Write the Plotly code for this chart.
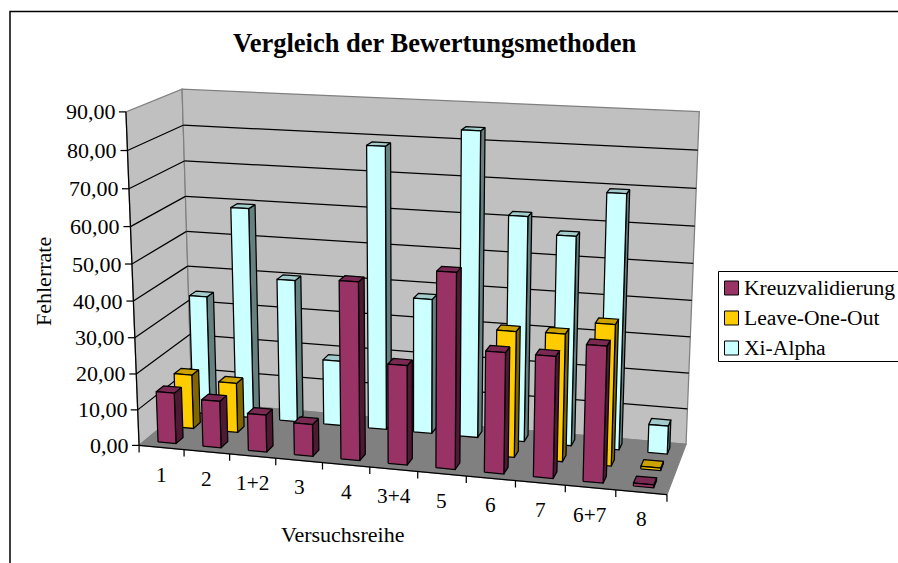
import numpy as np
import plotly.graph_objects as go

# ---------- data ----------
categories = ["1", "2", "1+2", "3", "4", "3+4", "5", "6", "7", "6+7", "8"]
kreuzvalidierung = [14.2, 13.0, 10.3, 8.8, 48.3, 27.0, 52.5, 32.5, 32.5, 36.2, 0.8]
leave_one_out = [15.3, 14.0, None, None, None, None, None, 34.4, 34.7, 38.2, 0.7]
xi_alpha = [34.0, 59.7, 40.4, 18.5, 78.7, 37.8, 84.0, 62.0, 57.5, 69.5, 7.8]
y_ticks = [0, 10, 20, 30, 40, 50, 60, 70, 80, 90]
y_tick_labels = ["0,00", "10,00", "20,00", "30,00", "40,00", "50,00", "60,00", "70,00", "80,00", "90,00"]
title_text = "Vergleich der Bewertungsmethoden"
x_title = "Versuchsreihe"
y_title = "Fehlerrate"

# ---------- projective camera of the 3-D box (u along categories, d into depth, v value) ----------
VMAX = 90.0
calib = [((0, 0, 0), (139, 445)), ((0, 0, 90), (126, 112)),
         ((0, 1, 0), (192, 402)), ((0, 1, 90), (182, 89)),
         ((1, 1, 0), (686, 444)), ((1, 1, 90), (699.3, 111.7)),
         ((1, 0, 0), (667, 495))]
A, b = [], []
for (u, d, v), (sx, sy) in calib:
    w = v / VMAX
    A.append([u, d, w, 1, 0, 0, 0, 0, -sx * u, -sx * d, -sx * w]); b.append(sx)
    A.append([0, 0, 0, 0, u, d, w, 1, -sy * u, -sy * d, -sy * w]); b.append(sy)
P = np.linalg.lstsq(np.array(A, float), np.array(b, float), rcond=None)[0]


def proj(u, d, v):
    w = v / VMAX
    den = P[8] * u + P[9] * d + P[10] * w + 1
    return ((P[0] * u + P[1] * d + P[2] * w + P[3]) / den,
            (P[4] * u + P[5] * d + P[6] * w + P[7]) / den)


def polys(pts_list):
    xs, ys = [], []
    for pts in pts_list:
        for p in list(pts) + [pts[0]]:
            x, y = proj(*p)
            xs.append(x); ys.append(y)
        xs.append(None); ys.append(None)
    return xs, ys


fig = go.Figure()
LW = 1.25


def poly(pts_list, fill, line="black", width=LW):
    xs, ys = polys(pts_list)
    fig.add_trace(go.Scatter(x=xs, y=ys, mode="lines", fill="toself", fillcolor=fill,
                             line=dict(color=line, width=width), hoverinfo="skip", showlegend=False))


def seg(pts_list, color="black", width=LW):
    xs, ys = [], []
    for a, c in pts_list:
        for p in (a, c):
            x, y = proj(*p)
            xs.append(x); ys.append(y)
        xs.append(None); ys.append(None)
    fig.add_trace(go.Scatter(x=xs, y=ys, mode="lines", line=dict(color=color, width=width),
                             hoverinfo="skip", showlegend=False))


# walls and floor
poly([[(0, 0, 0), (0, 1, 0), (0, 1, VMAX), (0, 0, VMAX)]], "#C0C0C0", "#808080")
poly([[(0, 1, 0), (1, 1, 0), (1, 1, VMAX), (0, 1, VMAX)]], "#C0C0C0", "#808080")
poly([[(0, 0, 0), (1, 0, 0), (1, 1, 0), (0, 1, 0)]], "#808080", "#808080")
seg([((0, 0, t), (0, 1, t)) for t in y_ticks[1:-1]] + [((0, 1, t), (1, 1, t)) for t in y_ticks[1:-1]])
seg([((0, 0, 0), (0, 0, VMAX)), ((0, 0, 0), (1, 0, 0))])

# bars, back series first
N = len(categories)
series = [(xi_alpha, 2, "#CCFFFF", "#668080", "#A3CCCC"),
          (leave_one_out, 1, "#FFCC00", "#806600", "#CCA300"),
          (kreuzvalidierung, 0, "#993366", "#4D1933", "#7A2952")]
for values, k, c_front, c_side, c_top in series:
    fronts, sides, tops = [], [], []
    for i, val in enumerate(values):
        if val is None:
            continue
        u0, u1 = (i + 0.3) / N, (i + 0.7) / N
        d0, d1 = (k + 0.3) / 3, (k + 0.7) / 3
        fronts.append([(u0, d0, 0), (u1, d0, 0), (u1, d0, val), (u0, d0, val)])
        sides.append([(u1, d0, 0), (u1, d1, 0), (u1, d1, val), (u1, d0, val)])
        tops.append([(u0, d0, val), (u1, d0, val), (u1, d1, val), (u0, d1, val)])
    poly(sides, c_side)
    poly(tops, c_top)
    poly(fronts, c_front)

FONT = "Liberation Serif"
ann = []
# value axis ticks and labels
tx, ty = [], []
for t, lab in zip(y_ticks, y_tick_labels):
    x, y = proj(0, 0, t)
    tx += [x - 7, x, None]; ty += [y, y, None]
    ann.append(dict(x=x - 8, y=y, text=lab, xanchor="right", yanchor="middle", showarrow=False,
                    font=dict(family=FONT, size=22, color="black")))
# category ticks and labels
for i in range(N + 1):
    x, y = proj(i / N, 0, 0)
    tx += [x, x, None]; ty += [y, y + 7, None]
for i, lab in enumerate(categories):
    x, y = proj((i + 0.5) / N, 0, 0)
    ann.append(dict(x=x, y=y + 27, text=lab, xanchor="center", yanchor="middle", showarrow=False,
                    font=dict(family=FONT, size=21.3, color="black")))
fig.add_trace(go.Scatter(x=tx, y=ty, mode="lines", line=dict(color="black", width=LW),
                         hoverinfo="skip", showlegend=False))

# titles
ann.append(dict(x=435, y=43, text="<b>%s</b>" % title_text, xanchor="center", yanchor="middle", showarrow=False,
                font=dict(family=FONT, size=26.5, color="black")))
ann.append(dict(x=342.5, y=534, text=x_title, xanchor="center", yanchor="middle", showarrow=False,
                font=dict(family=FONT, size=22, color="black")))
ann.append(dict(x=43, y=282, text=y_title, textangle=-90, xanchor="center", yanchor="middle", showarrow=False,
                font=dict(family=FONT, size=22, color="black")))

# legend
legend_names = ["Kreuzvalidierung", "Leave-One-Out", "Xi-Alpha"]
legend_colors = ["#993366", "#FFCC00", "#CCFFFF"]
shapes = [
    dict(type="rect", x0=10, y0=11.5, x1=920, y1=600, line=dict(color="black", width=1.5), fillcolor="rgba(0,0,0,0)", layer="below"),
    dict(type="rect", x0=718.5, y0=271.5, x1=920, y1=361.5, line=dict(color="black", width=1), fillcolor="white"),
]
for j, (nm, col) in enumerate(zip(legend_names, legend_colors)):
    yc = 288 + 30 * j
    shapes.append(dict(type="rect", x0=724.5, x1=738.5, y0=yc - 7, y1=yc + 7, line=dict(color="black", width=1), fillcolor=col))
    ann.append(dict(x=742, y=yc, text=nm, xanchor="left", yanchor="middle", showarrow=False,
                    font=dict(family=FONT, size=21.6, color="black")))

fig.update_layout(width=898, height=563, margin=dict(l=0, r=0, t=0, b=0), autosize=False,
                  paper_bgcolor="white", plot_bgcolor="white", showlegend=False,
                  xaxis=dict(range=[0, 898], visible=False, fixedrange=True),
                  yaxis=dict(range=[563, 0], visible=False, fixedrange=True),
                  annotations=ann, shapes=shapes)
fig.write_html("out.html", config=dict(displayModeBar=False),
               post_script="document.body.style.margin='0';document.documentElement.style.overflow='hidden';")
